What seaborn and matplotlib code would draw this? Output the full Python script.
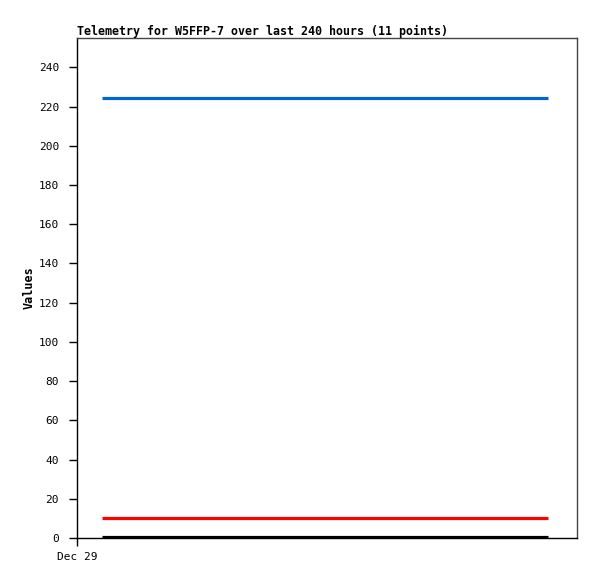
import matplotlib
matplotlib.use('Agg')
import matplotlib.pyplot as plt
import pandas as pd
import seaborn as sns

# telemetry points (index of sample, 11 points)
points = list(range(11))
ch_blue = [224.2] * 11
ch_red = [10] * 11
ch_black = [0.3] * 11
yticks = [0, 20, 40, 60, 80, 100, 120, 140, 160, 180, 200, 220, 240]
xlabel_text = 'Dec 29'

df = pd.DataFrame({
    'point': points * 3,
    'value': ch_blue + ch_red + ch_black,
    'ch': ['A1'] * 11 + ['A2'] * 11 + ['A3'] * 11,
})

sns.set_style('white')
plt.rcParams['font.family'] = ['DejaVu Sans Mono']
plt.rcParams['text.color'] = 'black'
plt.rcParams['axes.labelcolor'] = 'black'
plt.rcParams['xtick.color'] = 'black'
plt.rcParams['ytick.color'] = 'black'

fig = plt.figure(figsize=(5.97, 5.79), dpi=100)
ax = fig.add_axes([77 / 597, 41 / 579, 500 / 597, 500 / 579])

sns.lineplot(data=df, x='point', y='value', hue='ch',
             palette={'A1': '#0066cc', 'A2': '#ff0000', 'A3': '#000000'},
             linewidth=2.3, legend=False, ax=ax, solid_capstyle='butt')

ax.set_xlim(-0.56, 10.65)
ax.set_ylim(0, 255)
ax.set_yticks(yticks)
ax.set_yticklabels([str(v) for v in yticks], fontsize=8)
ax.set_xticks([-0.56])
ax.set_xticklabels([xlabel_text], fontsize=8)
ax.tick_params(axis='both', direction='out', length=6, width=1, color='black',
               left=True, bottom=True, labelcolor='black')
ax.tick_params(axis='y', pad=7)
ax.tick_params(axis='x', pad=4)

for s in ['left', 'bottom']:
    ax.spines[s].set_color('black')
    ax.spines[s].set_linewidth(1)
for s in ['top', 'right']:
    ax.spines[s].set_color('#444444')
    ax.spines[s].set_linewidth(1)

ax.set_xlabel('')
ax.set_ylabel('Values', fontsize=8.5, fontweight='bold', labelpad=2, color='black')
ax.set_title('Telemetry for W5FFP-7 over last 240 hours (11 points)',
             loc='left', fontsize=8.4, fontweight='bold', pad=2, color='black')

fig.savefig('out.png', dpi=100)
